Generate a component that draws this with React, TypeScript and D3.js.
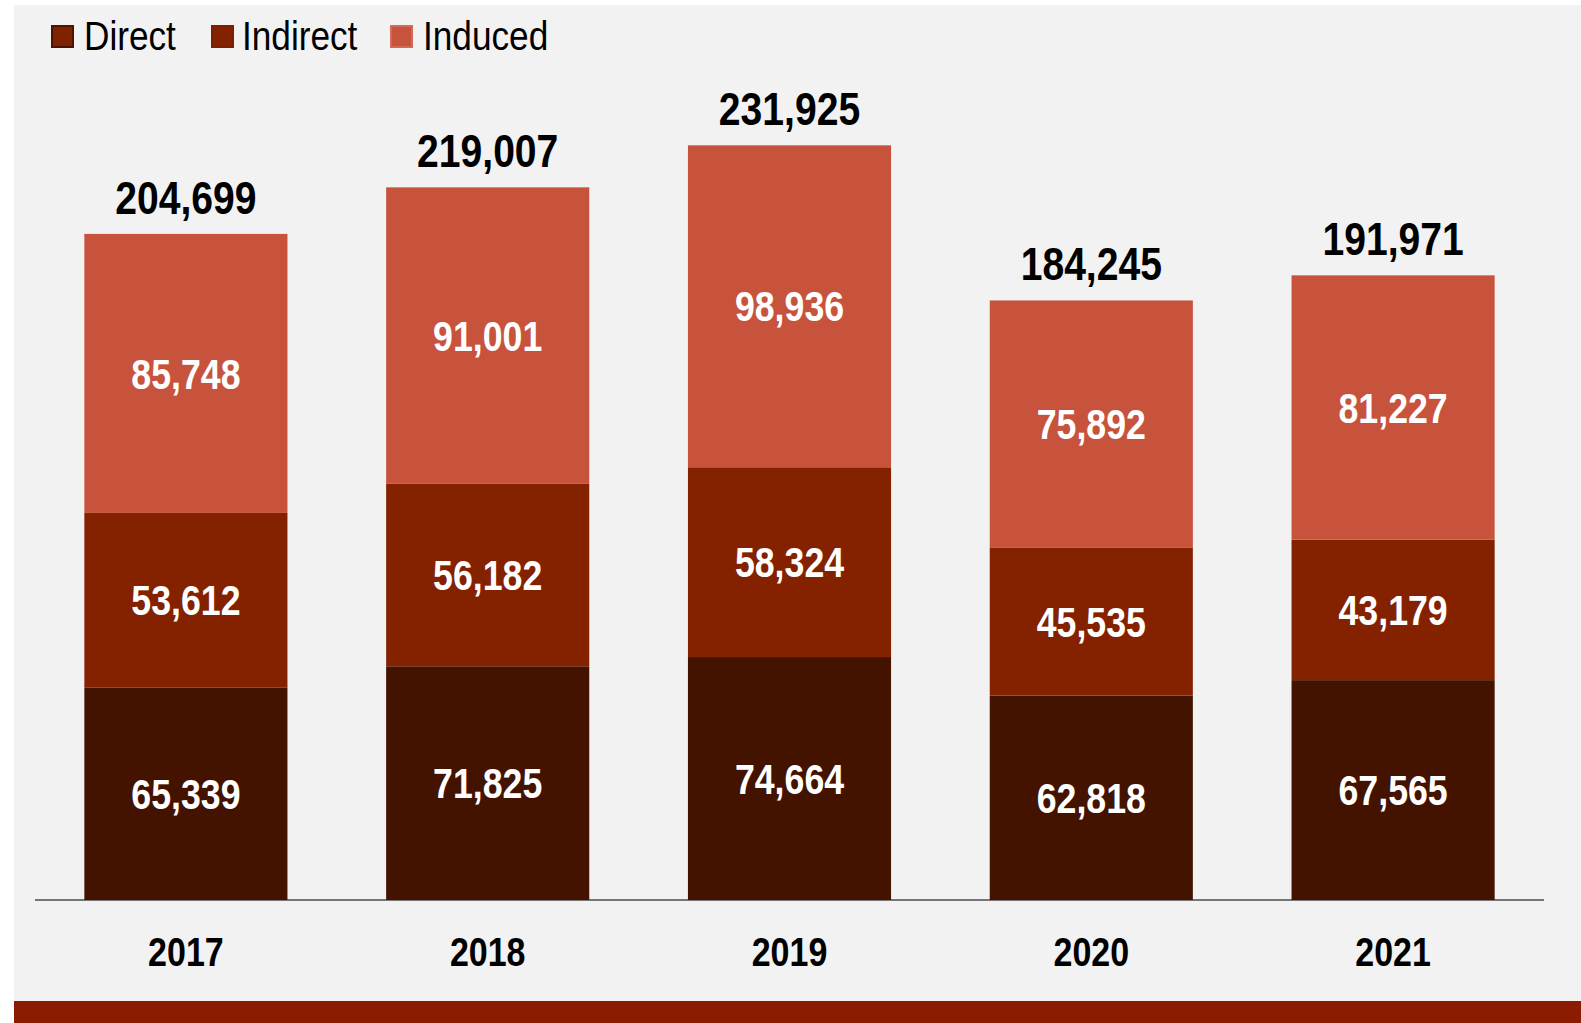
import React from "react";
import * as d3 from "d3";

const years = ["2017", "2018", "2019", "2020", "2021"];
const direct = [65339, 71825, 74664, 62818, 67565];
const indirect = [53612, 56182, 58324, 45535, 43179];
const induced = [85748, 91001, 98936, 75892, 81227];
const totals = [204699, 219007, 231925, 184245, 191971];
const seriesNames = ["Direct", "Indirect", "Induced"];
const seriesColors = ["#431300", "#842200", "#c8533d"];

const W = 1581;
const H = 1023;
const FONT = "'Liberation Sans Narrow', 'Arial Narrow', 'Liberation Sans', Arial, sans-serif";
const SX = 0.85;

function NarrowText({ x, y, children, anchor = "middle", sx = SX, ...rest }: any) {
  return (
    <g transform={`translate(${x},${y}) scale(${sx},1)`}>
      <text x={0} y={0} textAnchor={anchor} {...rest}>
        {children}
      </text>
    </g>
  );
}

export default function App() {
  const rows = years.map((y, i) => ({
    year: y,
    Direct: direct[i],
    Indirect: indirect[i],
    Induced: induced[i],
  }));
  const stack = d3.stack<any>().keys(seriesNames)(rows);
  const x = d3.scaleBand().domain(years).range([35, 1544]).paddingInner(0.327).paddingOuter(0.1635);
  const y = d3.scaleLinear().domain([0, 250000]).range([900, 86.5]);
  const fmt = d3.format(",");

  const legendItems = [
    { name: "Direct", sx: 51, tx: 84, fill: "#7f2200", stroke: "#4a1400" },
    { name: "Indirect", sx: 211, tx: 242, fill: "#842200", stroke: "#7a2000" },
    { name: "Induced", sx: 390, tx: 423, fill: "#c8533d", stroke: "#d26a55" },
  ];

  return (
    <svg width={W} height={H} style={{ position: "absolute", left: 0, top: 0 }} fontFamily={FONT}>
      <rect x={0} y={0} width={W} height={H} fill="#ffffff" />
      <rect x={14} y={5} width={W - 14} height={H - 5} fill="#f2f2f2" />
      <rect x={14} y={1001} width={W - 14} height={22} fill="#8b1c02" />

      {legendItems.map((l) => (
        <g key={l.name}>
          <rect x={l.sx + 1} y={26} width={21} height={21} fill={l.fill} stroke={l.stroke} strokeWidth={2} />
          <NarrowText x={l.tx} y={50} anchor="start" sx={0.88} fontSize={40} fill="#000">
            {l.name}
          </NarrowText>
        </g>
      ))}

      <line x1={35} x2={1544} y1={900} y2={900} stroke="#767676" strokeWidth={2} />

      {stack.map((s, si) => (
        <g key={s.key}>
          {s.map((d, i) => (
            <g key={i}>
              <rect
                x={x(years[i])}
                y={y(d[1])}
                width={x.bandwidth()}
                height={y(d[0]) - y(d[1])}
                fill={seriesColors[si]}
              />
              <NarrowText
                x={(x(years[i]) as number) + x.bandwidth() / 2}
                y={(y(d[0]) + y(d[1])) / 2}
                dy="0.36em"
                fontSize={42}
                fontWeight="bold"
                fill="#ffffff"
              >
                {fmt(d[1] - d[0])}
              </NarrowText>
            </g>
          ))}
        </g>
      ))}

      {totals.map((t, i) => (
        <NarrowText
          key={i}
          x={(x(years[i]) as number) + x.bandwidth() / 2}
          y={y(t) - 20}
          fontSize={46}
          fontWeight="bold"
          fill="#000"
        >
          {fmt(t)}
        </NarrowText>
      ))}

      {years.map((yr) => (
        <NarrowText
          key={yr}
          x={(x(yr) as number) + x.bandwidth() / 2}
          y={966}
          fontSize={40}
          fontWeight="bold"
          fill="#000"
        >
          {yr}
        </NarrowText>
      ))}
    </svg>
  );
}
